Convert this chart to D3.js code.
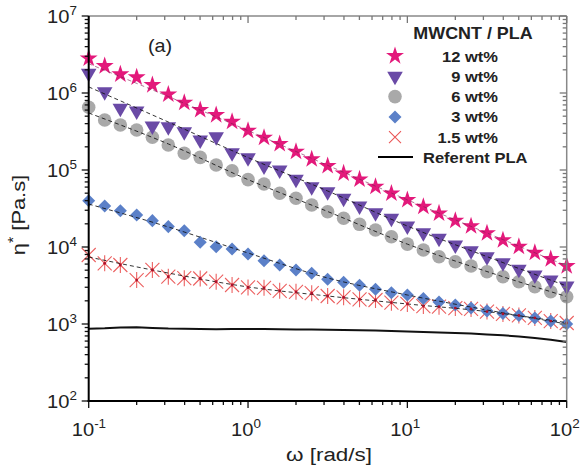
<!DOCTYPE html>
<html>
<head>
<meta charset="utf-8">
<script src="https://d3js.org/d3.v7.min.js"></script>
<style>
  body { margin: 0; background: #fff; }
  text { font-family: "Liberation Sans", Arial, sans-serif; fill: #222; }
</style>
</head>
<body>
<div id="chart"></div>
<script>
// angular frequency grid (rad/s), 10 points per decade
var freq = [0.1, 0.126, 0.158, 0.2, 0.251, 0.316, 0.398, 0.501, 0.631, 0.794,
            1, 1.26, 1.58, 2, 2.51, 3.16, 3.98, 5.01, 6.31, 7.94,
            10, 12.6, 15.8, 20, 25.1, 31.6, 39.8, 50.1, 63.1, 79.4, 100];

// complex viscosity eta* (Pa.s)
var wt12 = [2.82e6, 2.24e6, 1.75e6, 1.60e6, 1.27e6, 9.6e5, 7.48e5, 6.02e5, 5.18e5, 4.24e5,
            3.24e5, 2.63e5, 2.18e5, 1.73e5, 1.38e5, 1.13e5, 9.06e4, 7.57e4, 6.07e4, 4.98e4,
            4.08e4, 3.34e4, 2.74e4, 2.20e4, 1.87e4, 1.51e4, 1.23e4, 1.01e4, 8.43e3, 6.98e3, 5.66e3];
var wt9 = [1.80e6, 1.04e6, 6.33e5, 5.83e5, 3.73e5, 3.65e5, 3.14e5, 2.45e5, 2.71e5, 1.68e5,
           1.44e5, 1.13e5, 1.0e5, 7.57e4, 6.07e4, 5.22e4, 4.29e4, 3.40e4, 2.79e4, 2.36e4,
           1.87e4, 1.53e4, 1.30e4, 1.06e4, 8.95e3, 7.48e3, 6.25e3, 5.13e3, 4.33e3, 3.72e3, 3.12e3];
var wt6 = [6.52e5, 4.46e5, 3.84e5, 3.31e5, 2.66e5, 2.11e5, 1.65e5, 1.46e5, 1.16e5, 9.79e4,
           7.5e4, 6.58e4, 4.98e4, 4.29e4, 3.51e4, 2.87e4, 2.36e4, 1.97e4, 1.66e4, 1.36e4,
           1.09e4, 9.14e3, 7.48e3, 6.44e3, 5.66e3, 4.78e3, 4.11e3, 3.54e3, 3.05e3, 2.62e3, 2.26e3];
var wt3 = [3.99e4, 3.40e4, 2.96e4, 2.61e4, 2.20e4, 1.84e4, 1.63e4, 1.15e4, 1.01e4, 9.42e3,
           8.11e3, 6.64e3, 5.84e3, 5.03e3, 4.55e3, 3.81e3, 3.48e3, 3.18e3, 2.82e3, 2.55e3,
           2.38e3, 2.14e3, 1.93e3, 1.77e3, 1.61e3, 1.48e3, 1.37e3, 1.29e3, 1.20e3, 1.09e3, 1.0e3];
var wt15 = [7.87e3, 6.14e3, 5.84e3, 3.72e3, 5.03e3, 4.11e3, 3.93e3, 3.90e3, 3.54e3, 3.21e3,
            2.98e3, 2.95e3, 2.70e3, 2.62e3, 2.51e3, 2.31e3, 2.22e3, 2.09e3, 2.05e3, 1.89e3,
            1.82e3, 1.71e3, 1.68e3, 1.61e3, 1.57e3, 1.45e3, 1.35e3, 1.29e3, 1.20e3, 1.09e3, 1.03e3];
var pla = [870, 880, 900, 905, 890, 875, 870, 860, 855, 860,
           860, 858, 855, 850, 848, 845, 838, 830, 822, 812,
           800, 790, 778, 765, 750, 732, 712, 690, 660, 625, 585];

// dashed fit curves, anchors
var fitFreq = [0.1, 0.316, 1, 3.16, 10, 31.6, 100];
var fit12 = [2.4e6, 9.0e5, 3.25e5, 1.15e5, 4.1e4, 1.52e4, 5.7e3];
var fit9  = [1.2e6, 4.2e5, 1.45e5, 5.34e4, 1.87e4, 7.5e3, 3.12e3];
var fit6  = [5.5e5, 2.18e5, 7.5e4, 2.89e4, 1.09e4, 4.8e3, 2.27e3];
var fit3  = [3.61e4, 1.82e4, 8.36e3, 3.96e3, 2.38e3, 1.52e3, 1.0e3];
var fit15 = [7.41e3, 4.59e3, 3.03e3, 2.31e3, 1.82e3, 1.45e3, 1.04e3];

var labels = ["12 wt%", "9 wt%", "6 wt%", "3 wt%", "1.5 wt%"];

var W = 583, H = 467;
var pL = 88.7, pR = 566.7, pT = 16, pB = 401;

var svg = d3.select("#chart").append("svg")
    .attr("width", W).attr("height", H);

var x = d3.scaleLog().domain([0.1, 100]).range([pL, pR]);
var y = d3.scaleLog().domain([1e2, 1e7]).range([pB, pT]);

// ---- marker shapes
var starPath = d3.symbol().type(d3.symbolStar).size(100)();
var triPath = d3.symbol().type(d3.symbolTriangle).size(105)();
var circPath = d3.symbol().type(d3.symbolCircle).size(145)();
var diaPath = d3.symbol().type(d3.symbolSquare).size(85)();

function drawMarker(g, kind) {
  if (kind == 0) {
    g.append("path").attr("d", starPath).attr("fill", "#e3197b");
  } else if (kind == 1) {
    g.append("path").attr("d", triPath).attr("transform", "rotate(180)").attr("fill", "#6a4aa6");
  } else if (kind == 2) {
    g.append("path").attr("d", circPath).attr("fill", "#a9a9a9");
  } else if (kind == 3) {
    g.append("path").attr("d", diaPath).attr("transform", "rotate(45)").attr("fill", "#5b80c8");
  } else {
    g.append("path").attr("d", "M-7,-7L7,7M-7,7L7,-7M0,-8L0,8")
      .attr("stroke", "#ec6060").attr("stroke-width", 1.1).attr("fill", "none");
  }
}

var series = [wt12, wt9, wt6, wt3, wt15];
var fits = [fit12, fit9, fit6, fit3, fit15];

// reference PLA line
var plaLine = d3.line().x(function(d, i) { return x(freq[i]); }).y(function(d) { return y(d); });
svg.append("path").datum(pla).attr("d", plaLine)
   .attr("fill", "none").attr("stroke", "#111").attr("stroke-width", 2);

// markers (draw low series first so upper ones overlap)
for (var s = series.length - 1; s >= 0; s--) {
  svg.append("g").selectAll("g")
    .data(series[s])
    .enter().append("g")
    .attr("transform", function(d, i) { return "translate(" + x(freq[i]) + "," + y(d) + ")"; })
    .each(function() { drawMarker(d3.select(this), s); });
}

// fit lines on top of markers
var fitLine = d3.line()
    .x(function(d, i) { return x(fitFreq[i]); })
    .y(function(d) { return y(d); })
    .curve(d3.curveMonotoneX);
fits.forEach(function(f, k) {
  svg.append("path").datum(f).attr("d", fitLine)
    .attr("fill", "none")
    .attr("stroke", k == 0 ? "#7a2050" : "#111")
    .attr("stroke-width", 1)
    .attr("stroke-opacity", k == 0 ? 0.6 : 0.85)
    .attr("stroke-dasharray", "4,3");
});

// red centre dots on the asterisks
svg.append("g").selectAll("circle")
  .data(wt15).enter().append("circle")
  .attr("cx", function(d, i) { return x(freq[i]); })
  .attr("cy", function(d) { return y(d); })
  .attr("r", 1.4).attr("fill", "#b0102a");

// ---- frame and ticks
var xt = x.ticks(), yt = y.ticks();
function isMajor(v) { return Math.abs(Math.log10(v) - Math.round(Math.log10(v))) < 1e-6; }

svg.append("line").attr("x1", pL).attr("x2", pR).attr("y1", pT).attr("y2", pT)
   .attr("stroke", "#888").attr("stroke-width", 1.5);
svg.append("line").attr("x1", pR).attr("x2", pR).attr("y1", pT).attr("y2", pB)
   .attr("stroke", "#888").attr("stroke-width", 1.5);

var tk = svg.append("g").attr("stroke", "#111").attr("stroke-width", 1.3);
xt.forEach(function(v) {
  var L = isMajor(v) ? 7 : 4;
  tk.append("line").attr("x1", x(v)).attr("x2", x(v)).attr("y1", pB).attr("y2", pB + L);
  tk.append("line").attr("x1", x(v)).attr("x2", x(v)).attr("y1", pT).attr("y2", pT + L).attr("stroke", "#777");
});
yt.forEach(function(v) {
  var L = isMajor(v) ? 7 : 4;
  tk.append("line").attr("x1", pL - L).attr("x2", pL).attr("y1", y(v)).attr("y2", y(v));
  tk.append("line").attr("x1", pR - L).attr("x2", pR).attr("y1", y(v)).attr("y2", y(v)).attr("stroke", "#777");
});

svg.append("line").attr("x1", pL).attr("x2", pL).attr("y1", pT).attr("y2", pB + 1)
   .attr("stroke", "#000").attr("stroke-width", 2);
svg.append("line").attr("x1", pL - 1).attr("x2", pR).attr("y1", pB).attr("y2", pB)
   .attr("stroke", "#000").attr("stroke-width", 2);

// ---- tick labels (source art is slightly stretched sideways)
function powLabel(g, v) {
  var e = Math.round(Math.log10(v));
  g.append("tspan").text("10");
  g.append("tspan").attr("dy", -8).attr("font-size", 12).text(e < 0 ? "-" + (-e) : e);
}
xt.filter(isMajor).forEach(function(v) {
  var t = svg.append("text")
    .attr("transform", "translate(" + (x(v) - 17) + ",436) scale(1.12,1)")
    .attr("font-size", 18);
  powLabel(t, v);
});
yt.filter(isMajor).forEach(function(v) {
  var t = svg.append("text")
    .attr("transform", "translate(47," + (y(v) + 7) + ") scale(1.12,1)")
    .attr("font-size", 18);
  powLabel(t, v);
});

// ---- axis titles
var yl = svg.append("text").attr("transform", "translate(25,215) rotate(-90) scale(1.15,1)")
   .attr("text-anchor", "middle").attr("font-size", 19);
yl.append("tspan").text("\u03b7");
yl.append("tspan").attr("dy", -7).attr("font-size", 14).text("*");
yl.append("tspan").attr("dy", 7).text("  [Pa.s]");

svg.append("text").attr("transform", "translate(329,461) scale(1.18,1)")
   .attr("text-anchor", "middle")
   .attr("font-size", 19).text("\u03c9  [rad/s]");

svg.append("text").attr("transform", "translate(148,52) scale(1.1,1)")
   .attr("font-size", 18).text("(a)");

// ---- legend
var lg = svg.append("g");
lg.append("text").attr("transform", "translate(473,39) scale(1.12,1)")
  .attr("text-anchor", "middle")
  .attr("font-size", 16).attr("font-weight", "bold").text("MWCNT / PLA");
labels.forEach(function(lab, k) {
  var yy = 56 + k * 20.3;
  var g = lg.append("g").attr("transform", "translate(395," + yy + ")");
  if (k == 4) {
    g.append("path").attr("d", "M-6,-6L6,6M-6,6L6,-6")
      .attr("stroke", "#ea5656").attr("stroke-width", 1.1).attr("fill", "none");
  } else {
    drawMarker(g, k);
  }
  lg.append("text").attr("transform", "translate(498," + (yy + 5.5) + ") scale(1.1,1)")
    .attr("text-anchor", "end")
    .attr("font-size", 15).attr("font-weight", "bold").text(lab);
});
lg.append("line").attr("x1", 378).attr("x2", 413).attr("y1", 157).attr("y2", 157)
  .attr("stroke", "#000").attr("stroke-width", 2);
lg.append("text").attr("transform", "translate(423,162.5) scale(1.1,1)")
  .attr("font-size", 15).attr("font-weight", "bold").text("Referent PLA");
</script>
</body>
</html>
